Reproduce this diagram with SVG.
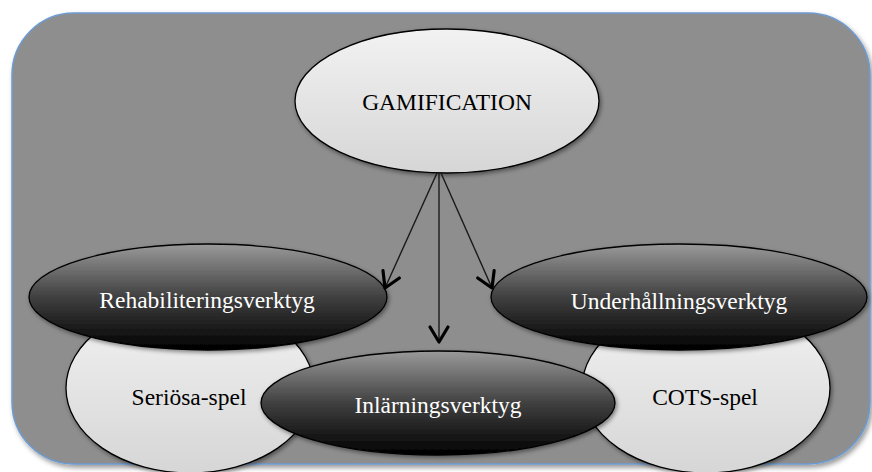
<svg xmlns="http://www.w3.org/2000/svg" width="872" height="472" viewBox="0 0 872 472">
<defs>
<linearGradient id="light" x1="0" y1="0" x2="0" y2="1">
<stop offset="0" stop-color="#f2f2f2"/>
<stop offset="1" stop-color="#d6d6d6"/>
</linearGradient>
<linearGradient id="dark" x1="0" y1="0" x2="0" y2="1">
<stop offset="0" stop-color="#9a9a9a"/>
<stop offset="0.5" stop-color="#404040"/>
<stop offset="1" stop-color="#000000"/>
</linearGradient>
<filter id="sh" x="-10%" y="-10%" width="125%" height="130%">
<feDropShadow dx="1.5" dy="2" stdDeviation="2" flood-color="#000" flood-opacity="0.45"/>
</filter>
<filter id="bgsh" x="-5%" y="-5%" width="112%" height="115%">
<feDropShadow dx="2" dy="3" stdDeviation="2.5" flood-color="#000" flood-opacity="0.4"/>
</filter>
<marker id="arr" markerWidth="24" markerHeight="24" refX="18" refY="12" orient="auto" markerUnits="userSpaceOnUse">
<path d="M3,3 L18,12 L3,21" fill="none" stroke="#000" stroke-width="3.2" stroke-linecap="round" stroke-linejoin="round"/>
</marker>
<style>
.lt{fill:url(#light);stroke:#000;stroke-width:1.3;filter:url(#sh)}
.dk{fill:url(#dark);stroke:#000;stroke-width:1.3;filter:url(#sh)}
.t{font-family:"Liberation Serif","Times New Roman",serif;font-size:23.5px;text-anchor:middle}
.tb{fill:#000}
.tw{fill:#fff}
.con{stroke:#1a1a1a;stroke-width:1.4;fill:none;marker-end:url(#arr)}
</style>
</defs>
<rect x="0" y="0" width="872" height="472" fill="#ffffff"/>
<rect id="background" x="12" y="13" width="858" height="451" rx="62" ry="62" fill="#8e8e8e" stroke="#6c9bd2" stroke-width="1.5" filter="url(#bgsh)"/>

<g id="node-seriosa">
<ellipse class="lt" cx="190" cy="388" rx="124" ry="85"/>
<text class="t tb" x="189" y="405">Seriösa-spel</text>
</g>
<g id="node-cots">
<ellipse class="lt" cx="706" cy="388" rx="124" ry="85"/>
<text class="t tb" x="705" y="405">COTS-spel</text>
</g>
<g id="node-gamification">
<ellipse class="lt" cx="447" cy="101" rx="152" ry="72"/>
<text class="t tb" x="447" y="110">GAMIFICATION</text>
</g>
<g id="node-rehab">
<ellipse class="dk" cx="208" cy="297" rx="179" ry="53"/>
<text class="t tw" x="207" y="308">Rehabiliteringsverktyg</text>
</g>
<g id="node-underhall">
<ellipse class="dk" cx="679" cy="297" rx="188" ry="53"/>
<text class="t tw" x="679" y="309">Underhållningsverktyg</text>
</g>
<g id="node-inlarning">
<ellipse class="dk" cx="438" cy="403" rx="177" ry="52"/>
<text class="t tw" x="438" y="413">Inlärningsverktyg</text>
</g>

<g id="connectors">
<line class="con" x1="437" y1="173" x2="385" y2="288"/>
<line class="con" x1="439" y1="173" x2="439" y2="342"/>
<line class="con" x1="441" y1="173" x2="492" y2="288"/>
</g>
</svg>
